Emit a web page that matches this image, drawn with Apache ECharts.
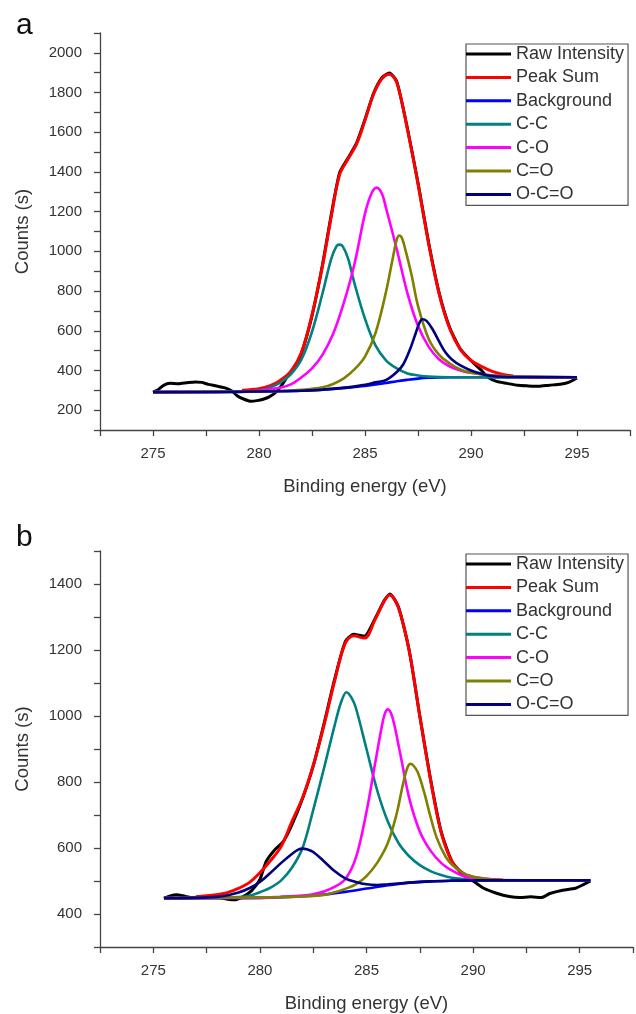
<!DOCTYPE html>
<html>
<head>
<meta charset="utf-8">
<script src="https://cdn.jsdelivr.net/npm/echarts@6/dist/echarts.min.js"></script>
<style>
html,body{margin:0;padding:0;background:#fff;}
#chart{width:636px;height:1014px;}
</style>
</head>
<body>
<div id="chart"></div>
<script>
// ---------- Data (Binding energy eV, Counts) ----------
const seriesNames = ['Raw Intensity','Peak Sum','Background','C-C','C-O','C=O','O-C=O'];
const seriesColors = ['#000000','#ff0000','#0000ff','#008080','#ff00ff','#808000','#000080'];

const xTicks = [275, 280, 285, 290, 295];
const yTicksA = [200,400,600,800,1000,1200,1400,1600,1800,2000];
const yTicksB = [400,600,800,1000,1200,1400];

// Panel a
const rawA = [[275,291],[275.2,300],[275.5,325],[275.8,335],[276.2,333],[276.6,338],[277,342],[277.3,340],[277.6,330],[278,322],[278.4,312],[278.7,298],[279,270],[279.3,255],[279.6,245],[279.9,248],[280.2,255],[280.5,268],[280.8,290],[281.1,330],[281.4,380],[281.7,420],[282,485],[282.5,675],[283,935],[283.4,1180],[283.8,1395],[284.2,1470],[284.6,1545],[285,1665],[285.4,1795],[285.8,1875],[286.15,1898],[286.5,1855],[287,1620],[287.5,1345],[288,1045],[288.5,790],[289,615],[289.5,508],[290,450],[290.5,400],[290.8,365],[291.2,345],[291.7,335],[292.2,325],[292.7,322],[293.2,320],[293.7,326],[294.2,330],[294.6,340],[295,362]];
const sumA = [[279.2,300],[280,308],[280.5,322],[281,350],[281.5,395],[282,490],[282.5,680],[283,930],[283.4,1170],[283.8,1385],[284.2,1465],[284.6,1540],[285,1660],[285.4,1790],[285.8,1870],[286.15,1892],[286.5,1850],[287,1615],[287.5,1340],[288,1040],[288.5,785],[289,610],[289.5,505],[290,450],[290.5,420],[291,395],[291.5,380],[292,372]];
const bgA = [[275,291],[278,291],[279,292],[280,293],[281,295],[282,298],[283,303],[284,312],[285,322],[285.5,329],[286,337],[286.5,346],[287,353],[287.5,359],[288,363],[288.5,365],[289,366],[295,366]];
const ccA = [[275,291],[279,292],[280,299],[280.5,313],[281,338],[281.5,380],[282,455],[282.5,595],[283,790],[283.4,960],[283.65,1025],[283.8,1034],[283.95,1025],[284.2,965],[284.5,840],[285,660],[285.5,525],[286,450],[286.5,410],[287,385],[287.5,375],[288,369],[289,366],[295,366]];
const coA = [[275,291],[279,293],[280,298],[280.5,305],[281,313],[281.5,330],[282,365],[282.5,410],[283,480],[283.5,585],[284,740],[284.5,935],[285,1190],[285.3,1290],[285.55,1321],[285.8,1290],[286,1215],[286.5,1010],[287,790],[287.5,625],[288,520],[288.5,455],[289,420],[289.5,400],[290,388],[291,375],[292,369],[295,366]];
const c2oA = [[275,291],[281,296],[282,302],[283,315],[283.5,332],[284,360],[284.5,405],[285,470],[285.5,590],[286,800],[286.3,960],[286.5,1060],[286.62,1080],[286.75,1065],[286.9,1010],[287.2,880],[287.5,725],[288,560],[288.5,478],[289,435],[289.5,405],[290,388],[291,374],[292,369],[295,366]];
const occA = [[275,291],[282,298],[284,312],[285,328],[285.5,340],[286,352],[286.5,392],[286.8,430],[287.1,500],[287.4,590],[287.55,635],[287.7,658],[287.9,650],[288.2,605],[288.5,545],[288.8,490],[289.1,455],[289.5,425],[290,400],[290.5,383],[291,372],[292,367],[295,366]];

// Panel b
const rawB = [[275.5,448],[275.8,455],[276.1,458],[276.4,455],[276.8,450],[277.5,451],[278,450],[278.5,445],[278.8,443],[279.2,452],[279.6,470],[280,505],[280.3,560],[280.7,595],[281.1,620],[281.5,670],[282,750],[282.5,848],[283,975],[283.5,1110],[284,1225],[284.4,1248],[284.9,1242],[285.4,1295],[285.85,1352],[286.1,1370],[286.5,1330],[287,1200],[287.5,1000],[288,810],[288.5,650],[289,560],[289.5,520],[290,500],[290.5,478],[291.1,463],[291.7,453],[292.2,450],[292.7,452],[293.2,450],[293.6,462],[294.2,472],[294.8,478],[295.2,490],[295.5,500]];
const sumB = [[277,452],[278.3,462],[279,478],[279.5,495],[280,525],[280.5,562],[281,605],[281.5,680],[282,752],[282.5,850],[283,970],[283.5,1105],[284,1220],[284.4,1243],[284.9,1236],[285.4,1292],[285.85,1350],[286.08,1367],[286.5,1328],[287,1198],[287.5,1000],[288,808],[288.5,648],[289,560],[289.5,525],[290,512],[290.5,507],[291.4,503]];
const bgB = [[275.5,448],[278,448],[280,449],[281,451],[282,454],[283,459],[284,467],[285,477],[286,487],[287,495],[288,499],[289,501],[290,502],[295.5,502]];
const ccB = [[275.5,448],[278,449],[279,451],[279.5,455],[280,466],[280.5,480],[281,502],[281.5,540],[282,600],[282.5,715],[283,840],[283.5,970],[283.8,1040],[284.06,1072],[284.3,1055],[284.5,1025],[285,900],[285.5,775],[286,680],[286.5,615],[287,575],[287.5,548],[288,530],[288.5,518],[289,510],[290,504],[291,502],[295.5,502]];
const coB = [[275.5,448],[280,449],[281,452],[282,456],[282.5,460],[283,468],[283.5,482],[284,505],[284.5,570],[285,710],[285.4,855],[285.7,962],[285.85,1005],[286,1020],[286.15,1008],[286.3,975],[286.6,880],[287,752],[287.5,650],[288,592],[288.5,555],[289,532],[289.5,516],[290,508],[291,503],[295.5,502]];
const c2oB = [[275.5,448],[281,451],[282,453],[283,458],[283.5,466],[284,476],[284.5,490],[285,515],[285.5,555],[286,615],[286.4,700],[286.7,790],[286.9,840],[287.06,855],[287.2,850],[287.4,830],[287.7,770],[288,695],[288.3,630],[288.7,575],[289,550],[289.5,525],[290,512],[291,504],[295.5,502]];
const occB = [[275.5,448],[277,449],[278,452],[278.5,457],[279,465],[279.5,478],[280,497],[280.5,525],[281,555],[281.5,582],[281.8,595],[282,598],[282.2,596],[282.5,588],[283,560],[283.5,530],[284,508],[284.5,497],[285,490],[285.5,488],[286,490],[287,495],[288,499],[289,501],[290,502],[295.5,502]];

const panelA = [rawA, sumA, bgA, ccA, coA, c2oA, occA];
const panelB = [rawB, sumB, bgB, ccB, coB, c2oB, occB];

// ---------- Chart ----------
const FONT = "'Liberation Sans', Arial, sans-serif";
const chart = echarts.init(document.getElementById('chart'), null, {renderer:'canvas'});

function xAxis(gridIndex){
  return {
    type:'value', gridIndex, min:272.5, max:297.5, interval:2.5,
    name:'Binding energy (eV)', nameLocation:'middle', nameGap:47,
    nameTextStyle:{fontFamily:FONT, fontSize:18.5, color:'#333'},
    axisLine:{show:true, lineStyle:{color:'#444', width:1.3}},
    axisTick:{show:true, length:6, lineStyle:{color:'#444', width:1.3}},
    axisLabel:{fontFamily:FONT, fontSize:15, color:'#333', margin:16,
      formatter:v => xTicks.includes(Math.round(v*10)/10) ? String(Math.round(v)) : ''},
    splitLine:{show:false}
  };
}
function yAxis(gridIndex, min, max, ticks){
  return {
    type:'value', gridIndex, min, max, interval:100,
    name:'Counts (s)', nameLocation:'middle', nameGap:68,
    nameTextStyle:{fontFamily:FONT, fontSize:18.5, color:'#333'},
    axisLine:{show:true, lineStyle:{color:'#444', width:1.3}},
    axisTick:{show:true, length:6, lineStyle:{color:'#444', width:1.3}},
    axisLabel:{fontFamily:FONT, fontSize:15, color:'#333', margin:18,
      formatter:v => ticks.includes(Math.round(v)) ? String(Math.round(v)) : ''},
    splitLine:{show:false}
  };
}

function makeSeries(panel, idx){
  return panel.map((d,i) => ({
    name: seriesNames[i], type:'line', xAxisIndex:idx, yAxisIndex:idx,
    data:d, showSymbol:false, symbol:'none',
    smooth: i === 0 ? 0.2 : 0.35,
    lineStyle:{color:seriesColors[i], width: i < 2 ? 3 : 2.6},
    itemStyle:{color:seriesColors[i]},
    emphasis:{disabled:true}, z: 2 + i
  }));
}

function legend(top){
  return {
    orient:'vertical', left:466, top, icon:'rect', itemWidth:45, itemHeight:3,
    itemGap:3.4, padding:[0,4,1,0],
    borderColor:'#555', borderWidth:1.2, backgroundColor:'#fff',
    textStyle:{fontFamily:FONT, fontSize:18, color:'#333', lineHeight:20},
    data: seriesNames, selectedMode:false
  };
}

chart.setOption({
  animation:false,
  backgroundColor:'#fff',
  title:[
    {text:'a', left:11, top:6, textStyle:{fontFamily:FONT, fontSize:30, fontWeight:'normal', color:'#111'}},
    {text:'b', left:11, top:518, textStyle:{fontFamily:FONT, fontSize:30, fontWeight:'normal', color:'#111'}}
  ],
  grid:[
    {left:100, top:33, width:530, height:397},
    {left:100, top:551, width:536, height:398}
  ],
  xAxis:[xAxis(0), xAxis(1)],
  yAxis:[yAxis(0,100,2100,yTicksA), yAxis(1,300,1500,yTicksB)],
  legend:[legend(44), legend(554)],
  series:[...makeSeries(panelA,0), ...makeSeries(panelB,1)]
});
</script>
</body>
</html>
